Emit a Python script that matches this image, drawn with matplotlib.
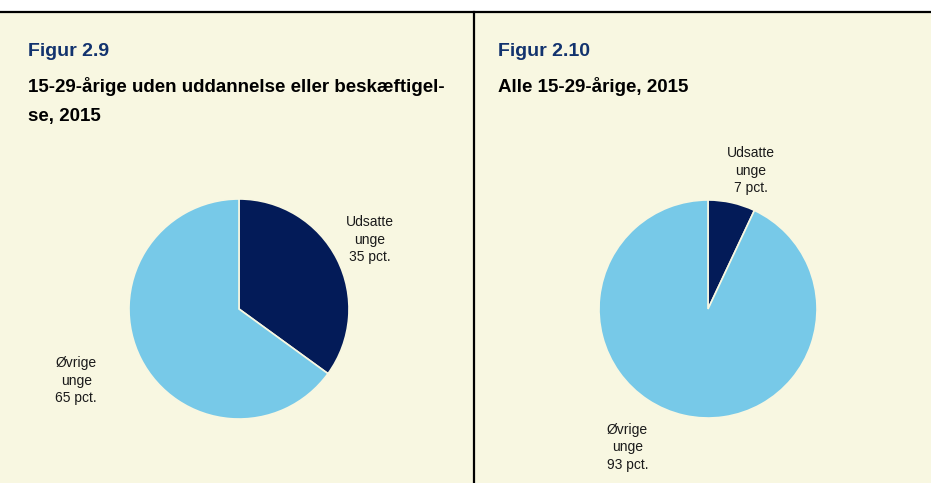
import matplotlib
matplotlib.use("Agg")
import matplotlib.pyplot as plt
from matplotlib.lines import Line2D
from matplotlib.patches import Rectangle

plt.rcParams['font.family'] = ['Liberation Sans', 'DejaVu Sans']

#------------------------------------------------ data
groups = ["Udsatte\nunge", "Øvrige\nunge"]
share_neet = [35, 65]      # figur 2.9
share_all = [7, 93]        # figur 2.10
titles = ["Figur 2.9", "Figur 2.10"]
subtitles = [["15-29-årige uden uddannelse eller beskæftigel-", "se, 2015"],
             ["Alle 15-29-årige, 2015"]]

dark = "#031b58"
light = "#77c9e8"
cream = "#f8f7e1"
titleblue = "#12336e"

W, H = 931, 483
fig = plt.figure(figsize=(W / 100, H / 100), dpi=100, facecolor="white")

def fx(x):
    return x / W

def fy(y):
    return 1 - y / H

# panel background + frame lines
fig.patches.append(Rectangle((0, 0), 1, fy(12), transform=fig.transFigure,
                             facecolor=cream, edgecolor="none", zorder=-10))
fig.lines.append(Line2D([0, 1], [fy(12), fy(12)], transform=fig.transFigure,
                        color="black", lw=1.6))
fig.lines.append(Line2D([fx(474), fx(474)], [0, fy(12)], transform=fig.transFigure,
                        color="black", lw=1.6))

#------------------------------------------------ pies
# (center x, center y, radius) in pixels, label spots as (x, y) in radius units
panels = [
    dict(vals=share_neet, cx=239, cy=309, r=110, tx=28,
         spots=[(1.19, 0.63), (-1.48, -0.65)]),
    dict(vals=share_all, cx=708, cy=309, r=109, tx=498,
         spots=[(0.39, 1.27), (-0.74, -1.27)]),
]

for i, p in enumerate(panels):
    r = p["r"]
    ax = fig.add_axes([fx(p["cx"] - r), fy(p["cy"] + r), 2 * r / W, 2 * r / H])
    ax.set_zorder(5)
    ax.pie(p["vals"], colors=[dark, light], startangle=90, counterclock=False,
           radius=1, wedgeprops=dict(edgecolor=cream, linewidth=1.2))
    ax.set_xlim(-1, 1)
    ax.set_ylim(-1, 1)
    ax.set_aspect("equal")
    ax.axis("off")
    for g, v, (sx, sy) in zip(groups, p["vals"], p["spots"]):
        ax.text(sx, sy, "%s\n%d pct." % (g, v), ha="center", va="center",
                fontsize=10, linespacing=1.3, color="#1a1a1a")

    fig.text(fx(p["tx"]), fy(52), titles[i], fontsize=14, fontweight="bold",
             color=titleblue, va="center", ha="left")
    for k, line in enumerate(subtitles[i]):
        fig.text(fx(p["tx"]), fy(86 + 30 * k), line, fontsize=13.5, fontweight="bold",
                 color="black", va="center", ha="left")

fig.savefig("out.png", dpi=100, facecolor=fig.get_facecolor())
